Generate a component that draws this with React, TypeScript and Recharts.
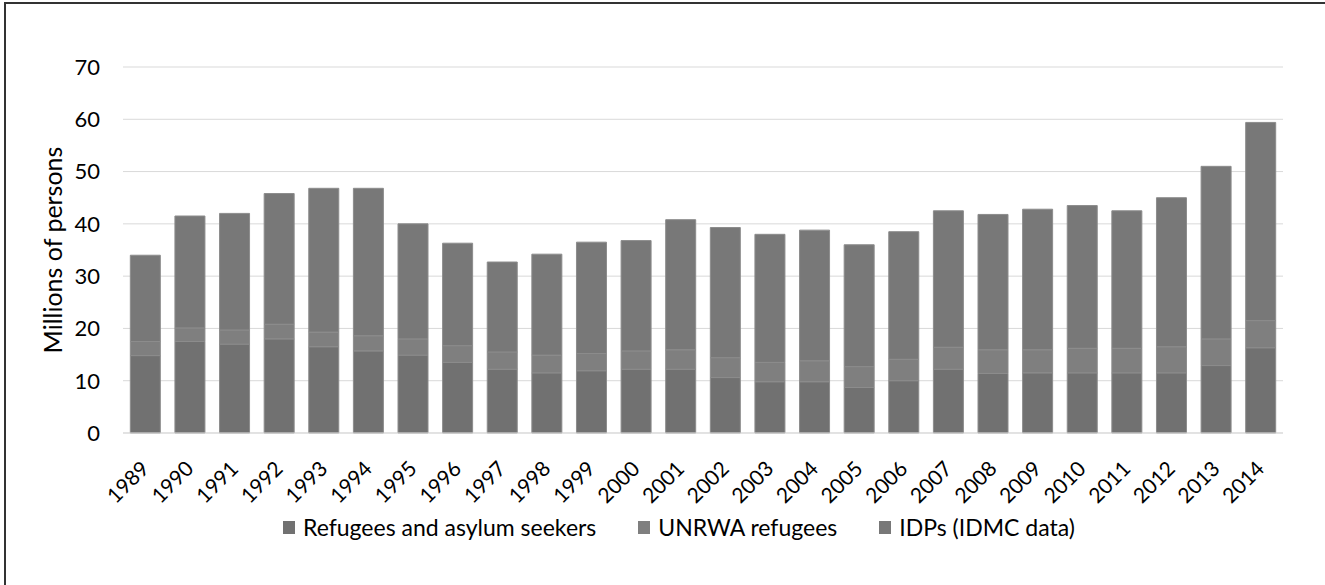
import React from 'react'
import { BarChart, Bar, XAxis, YAxis, CartesianGrid, Legend } from 'recharts'

const years = ['1989', '1990', '1991', '1992', '1993', '1994', '1995', '1996', '1997', '1998', '1999', '2000', '2001',
    '2002', '2003', '2004', '2005', '2006', '2007', '2008', '2009', '2010', '2011', '2012', '2013', '2014']

// millions of persons
const refugees = [14.8, 17.5, 17.0, 18.0, 16.5, 15.7, 14.9, 13.5, 12.2, 11.5, 11.9, 12.2, 12.2,
    10.6, 9.8, 9.8, 8.7, 10.0, 12.2, 11.4, 11.5, 11.5, 11.5, 11.5, 12.9, 16.3]
const unrwa = [2.7, 2.6, 2.7, 2.8, 2.8, 2.9, 3.1, 3.2, 3.3, 3.4, 3.3, 3.5, 3.7,
    3.8, 3.7, 4.0, 4.0, 4.1, 4.2, 4.5, 4.4, 4.7, 4.7, 5.0, 5.1, 5.2]
const idps = [16.5, 21.4, 22.3, 25.0, 27.5, 28.2, 22.0, 19.6, 17.2, 19.3, 21.3, 21.1, 24.9,
    24.9, 24.5, 25.0, 23.3, 24.4, 26.1, 25.9, 26.9, 27.3, 26.3, 28.5, 33.0, 37.9]

const yTicks = [0, 10, 20, 30, 40, 50, 60, 70]
const seriesOrder = ['Refugees and asylum seekers', 'UNRWA refugees', 'IDPs (IDMC data)']

const data = years.map((year, i) => ({
    year,
    refugees: refugees[i],
    unrwa: unrwa[i],
    idps: idps[i],
}))

const FONT = 'Lato, "Open Sans", sans-serif'

const YearTick = (props: any) => {
    const { x, y, payload } = props
    const tx = x + 5
    const ty = y + 29
    return (
        <text
            x={tx}
            y={ty}
            transform={`rotate(-45, ${tx}, ${ty})`}
            textAnchor="end"
            fill="#000"
            fontSize={21}
            fontFamily={FONT}
        >
            {payload.value}
        </text>
    )
}

const LegendContent = (props: any) => {
    const payload = [...(props.payload || [])].sort(
        (a: any, b: any) => seriesOrder.indexOf(a.value) - seriesOrder.indexOf(b.value)
    )
    return (
        <div style={{ display: 'flex', paddingLeft: 283, fontFamily: FONT, fontSize: 23, color: '#000', lineHeight: 'normal' }}>
            {payload.map((entry: any) => (
                <div key={entry.value} style={{ display: 'flex', alignItems: 'center', marginRight: 42 }}>
                    <span style={{ display: 'inline-block', width: 12, height: 13, background: entry.color, marginRight: 8 }} />
                    <span>{entry.value}</span>
                </div>
            ))}
        </div>
    )
}

export default function App() {
    return (
        <div style={{ position: 'fixed', left: 0, top: 0, width: 1325, height: 585, background: '#fff' }}>
            <div style={{ position: 'absolute', left: 4, top: 2, right: 0, bottom: 0, borderLeft: '2px solid #333', borderTop: '2px solid #333' }} />
            <BarChart
                width={1325}
                height={585}
                data={data}
                margin={{ top: 67, right: 42, left: 0, bottom: 0 }}
                barCategoryGap="16.4%"
            >
                <CartesianGrid vertical={false} stroke="#d9d9d9" />
                <XAxis
                    dataKey="year"
                    height={152}
                    tick={<YearTick />}
                    tickLine={false}
                    axisLine={{ stroke: '#d9d9d9' }}
                    interval={0}
                />
                <YAxis
                    width={123}
                    domain={[0, 70]}
                    ticks={yTicks}
                    tickLine={false}
                    axisLine={false}
                    tickMargin={17}
                    tick={{ fontSize: 22, fill: '#000', fontFamily: FONT }}
                    label={{
                        value: 'Millions of persons',
                        angle: -90,
                        position: 'insideLeft',
                        offset: 53,
                        style: { textAnchor: 'middle', fontSize: 25, fill: '#000', fontFamily: FONT },
                    }}
                />
                <Legend
                    verticalAlign="middle"
                    align="center"
                    content={<LegendContent />}
                    wrapperStyle={{ top: 513, left: 0, width: 1325 }}
                />
                <Bar dataKey="refugees" name="Refugees and asylum seekers" stackId="a" fill="#717171" stroke="#8c8c8c" strokeWidth={1} isAnimationActive={false} />
                <Bar dataKey="unrwa" name="UNRWA refugees" stackId="a" fill="#7f7f7f" stroke="#8c8c8c" strokeWidth={1} isAnimationActive={false} />
                <Bar dataKey="idps" name="IDPs (IDMC data)" stackId="a" fill="#787878" stroke="#8c8c8c" strokeWidth={1} isAnimationActive={false} />
            </BarChart>
        </div>
    )
}
